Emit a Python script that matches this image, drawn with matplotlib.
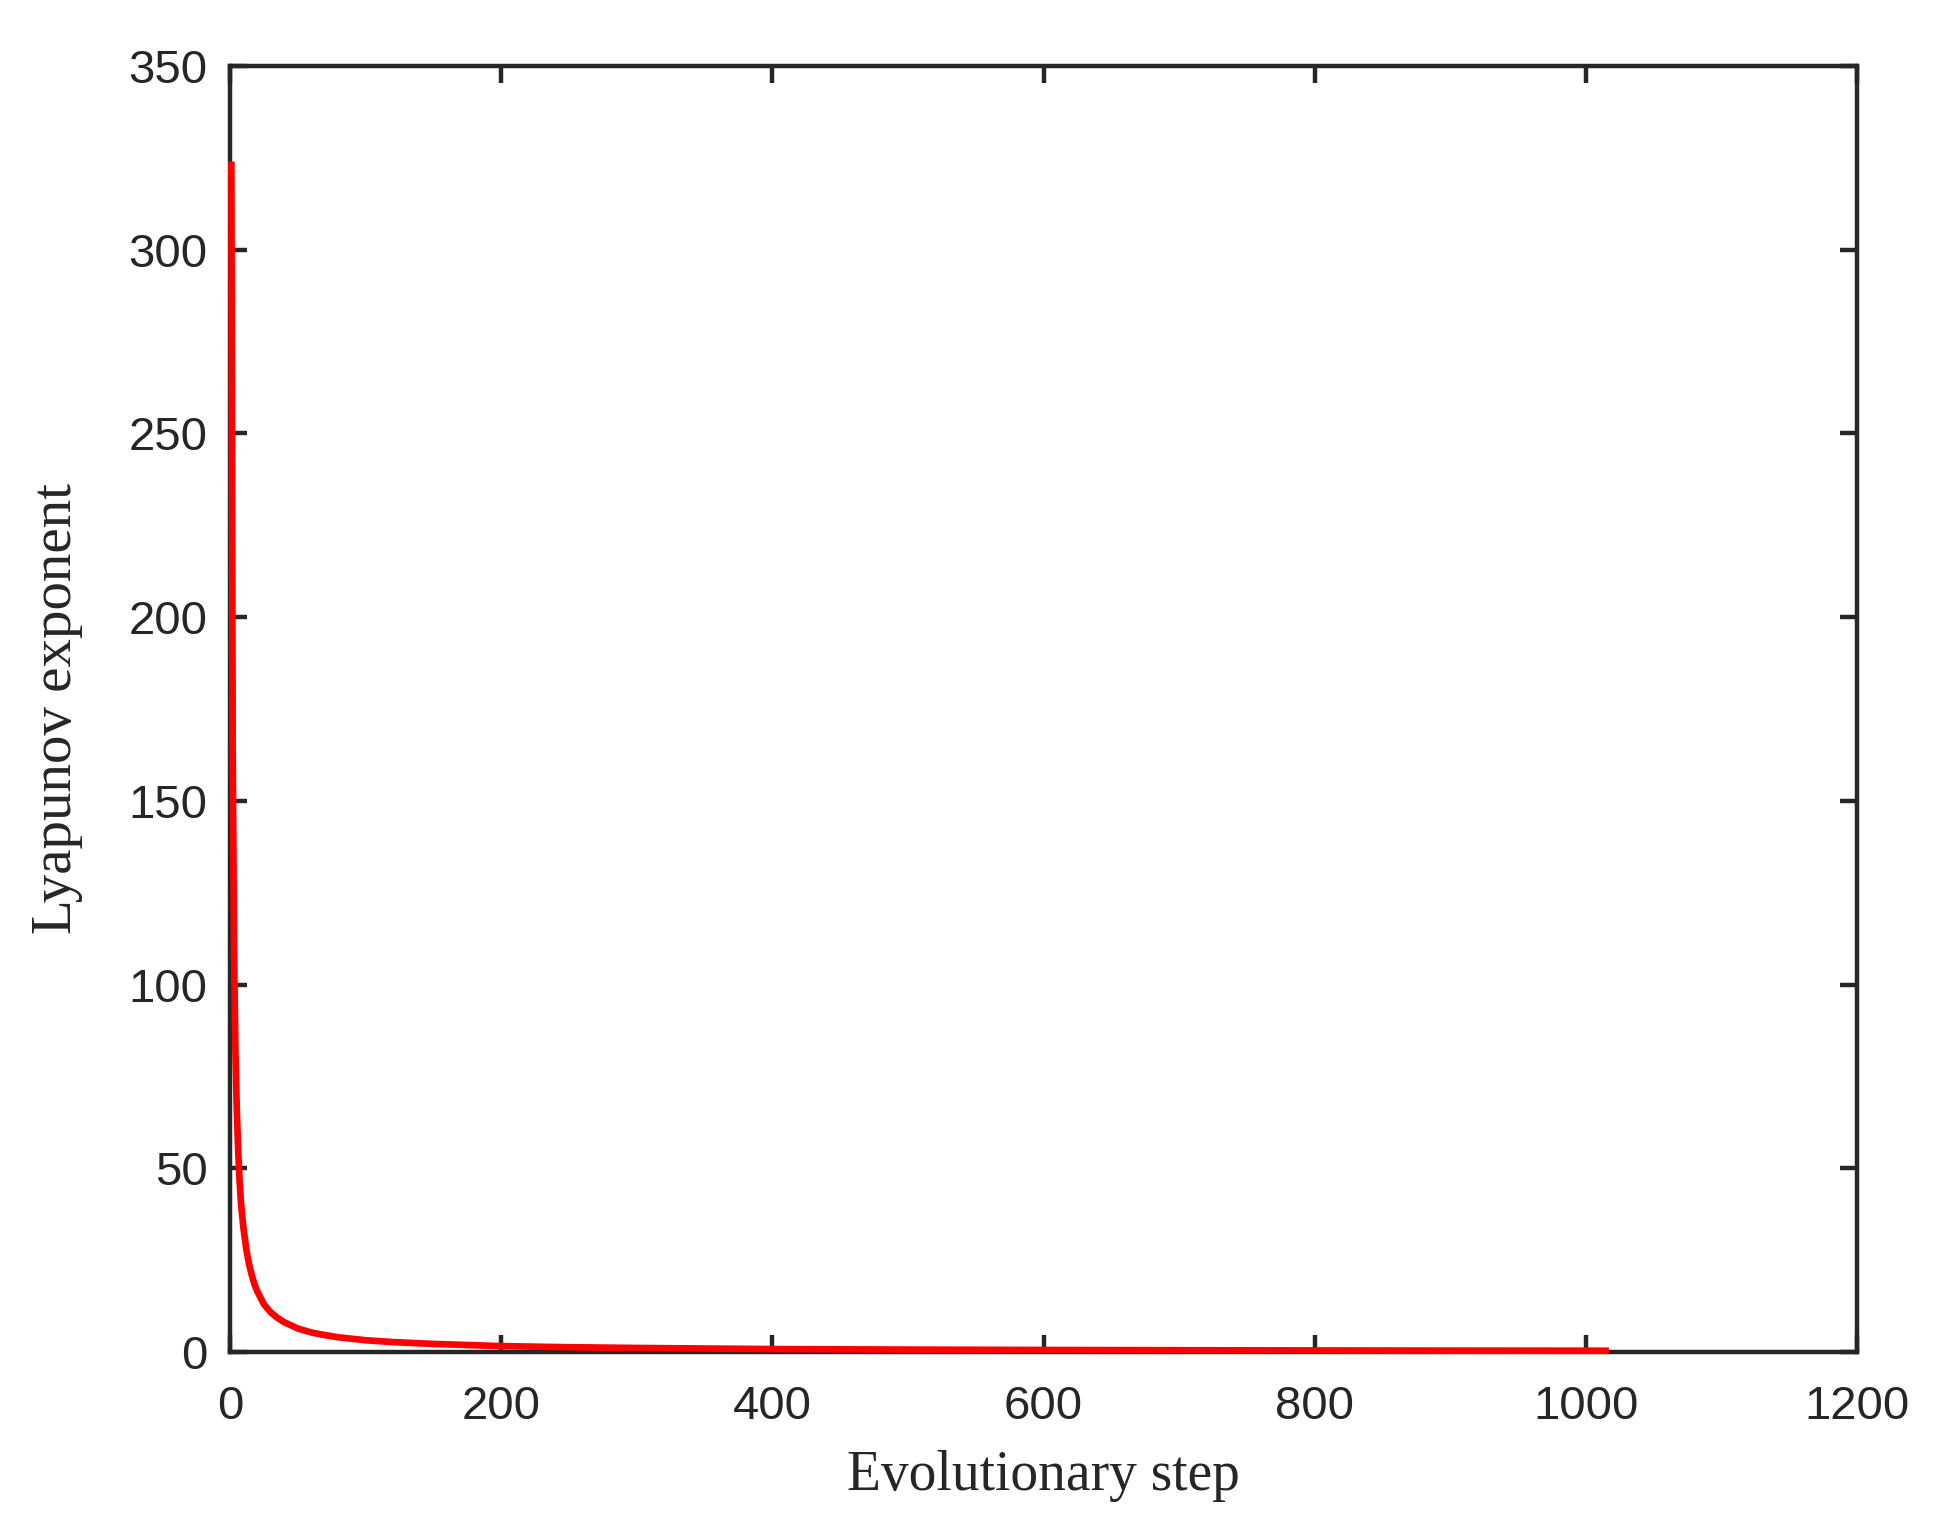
import matplotlib
matplotlib.use("Agg")
import matplotlib.pyplot as plt

# Data
steps = [1, 2, 3, 4, 5, 6, 7, 8, 9, 10, 12, 14, 16, 18, 20, 25, 30, 35, 40,
         50, 60, 70, 80, 100, 120, 150, 200, 250, 300, 400, 500, 600, 700,
         800, 900, 1000, 1017]
lyapunov = [324, 163, 109, 82, 66, 55, 47, 41, 37, 33.5, 28, 24, 21, 18.5,
            16.6, 13.0, 10.8, 9.3, 8.1, 6.4, 5.3, 4.6, 4.0, 3.2, 2.7, 2.2,
            1.6, 1.3, 1.1, 0.8, 0.65, 0.55, 0.48, 0.42, 0.38, 0.35, 0.34]
xticks = [0, 200, 400, 600, 800, 1000, 1200]
yticks = [0, 50, 100, 150, 200, 250, 300, 350]

dark = "#262626"

fig = plt.figure(figsize=(19.47, 15.22), dpi=100)
ax = fig.add_axes([230 / 1947, 1 - 1352 / 1522, 1627 / 1947, 1286 / 1522])

ax.plot(steps, lyapunov, color="#ff0000", linewidth=4.8,
        solid_capstyle="butt", zorder=3, clip_on=False)

ax.set_xlim(0, 1200)
ax.set_ylim(0, 350)
ax.set_xticks(xticks)
ax.set_yticks(yticks)

for s in ax.spines.values():
    s.set_linewidth(3.2)
    s.set_color(dark)
    s.set_zorder(2)

ax.tick_params(axis="both", which="major", direction="in", length=12,
               width=3.2, color=dark, labelcolor=dark, top=True, right=True,
               labelsize=34)
ax.tick_params(axis="x", pad=24)
ax.tick_params(axis="y", pad=16)
for lab in ax.get_xticklabels() + ax.get_yticklabels():
    lab.set_family(["Liberation Sans", "DejaVu Sans"])

ax.set_xlabel("Evolutionary step", fontsize=40, color=dark,
              family=["Liberation Serif", "DejaVu Serif"], labelpad=15)
ax.set_ylabel("Lyapunov exponent", fontsize=41, color=dark,
              family=["Liberation Serif", "DejaVu Serif"], labelpad=33)

fig.savefig("out.png", dpi=100, facecolor="white")
